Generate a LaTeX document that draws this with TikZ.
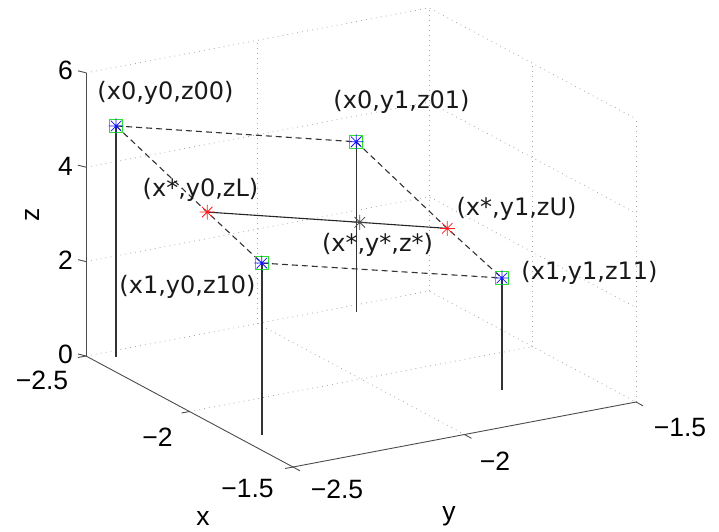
\documentclass[tikz,border=0pt]{standalone}
\usepackage{fontspec}
\newfontfamily\lblfont{DejaVu Sans}
\newfontfamily\tickfont{Liberation Sans}
\definecolor{mgreen}{RGB}{40,225,40}
\definecolor{mblue}{RGB}{20,20,255}
\definecolor{mred}{RGB}{255,30,30}
\begin{document}
\begin{tikzpicture}[x=1pt,y=-1pt,
  gridline/.style={black!35, line width=0.8pt, dash pattern=on 0.8pt off 4.2pt},
  axisline/.style={black!70, line width=0.9pt},
  stem/.style={black!80, line width=1.4pt},
  dashedge/.style={black!80, line width=1.1pt, dash pattern=on 6pt off 4pt},
  midline/.style={black!85, line width=1.1pt},
  sqr/.style={draw=mgreen, line width=0.8pt, minimum size=13pt, inner sep=0pt},
  lbl/.style={font=\lblfont\fontsize{24}{28}\selectfont, text=black!90, inner sep=0pt},
  tick/.style={font=\tickfont\fontsize{26.5}{30}\selectfont, text=black, inner sep=0pt},
  starmark/.pic={\draw[line width=0.75pt] (-7.5pt,0)--(7.5pt,0) (0,-7.5pt)--(0,7.5pt)
     (-5.3pt,-5.3pt)--(5.3pt,5.3pt) (-5.3pt,5.3pt)--(5.3pt,-5.3pt);}
]
\useasboundingbox (0,0) rectangle (719,531);
\begin{scope}[shift={(86,356)}, x={(207pt,-111pt)}, y={(343pt,65pt)}, z={(0pt,47.2pt)}]
  % grid
  \foreach \zz in {0,2,4,6} {\draw[gridline] (0,0,\zz) -- (0,1,\zz) -- (1,1,\zz);}
  \foreach \vv in {0.5,1} {\draw[gridline] (0,\vv,0) -- (0,\vv,6);}
  \foreach \uu in {0.5,1} {\draw[gridline] (\uu,1,0) -- (\uu,1,6);}
  \draw[gridline] (0.5,0,0) -- (0.5,1,0);
  \draw[gridline] (0,0.5,0) -- (1,0.5,0);
  % axes
  \draw[axisline] (0,0,0) -- (0,0,6);
  \draw[axisline] (0,0,0) -- (1,0,0) -- (1,1,0);
  \foreach \zz in {0,2,4,6} {\draw[axisline] (0,0,\zz) -- ++(-8pt,2pt);}
  \foreach \uu in {0,0.5,1} {\draw[axisline] (\uu,0,0) -- ++(-8pt,-1.5pt);}
  \foreach \vv in {0,0.5,1} {\draw[axisline] (1,\vv,0) -- ++(7pt,-3.8pt);}
  % data points
  \coordinate (p00) at (0.046,0.06,4.9);
  \coordinate (p01) at (0.046,0.76,3.6);
  \coordinate (p10) at (0.75,0.06,3.65);
  \coordinate (p11) at (0.75,0.76,2.37);
  \coordinate (pL)  at (0.486,0.06,4.11);
  \coordinate (pU)  at (0.486,0.76,2.80);
  \coordinate (ps)  at (0.486,0.505,3.28);
  \coordinate (b00) at (0.046,0.06,0);
  \coordinate (b01) at (0.046,0.76,0);
  \coordinate (b10) at (0.75,0.06,0);
  \coordinate (b11) at (0.75,0.76,0);
\end{scope}
% stems
\draw[stem] (p00) -- (b00);
\draw[stem] (p01) -- (b01);
\draw[stem] (p10) -- (b10);
\draw[stem] (p11) -- (b11);
% dashed cell edges
\draw[dashedge] (p00) -- (p01);
\draw[dashedge] (p00) -- (pL) -- (p10);
\draw[dashedge] (p10) -- (p11);
\draw[dashedge] (p01) -- (pU) -- (p11);
% interpolation line
\draw[midline] (pL) -- (ps) -- (pU);
% markers
\foreach \p in {p00,p01,p10,p11} {
  \node[sqr] (sq\p) at (\p) {};
  \pic[mblue] at (\p) {starmark};
}
\pic[mred] at (pL) {starmark};
\pic[mred] at (pU) {starmark};
\pic[black!70] at (ps) {starmark};
% data labels
\node[lbl] (l00) at (165.5,93) {(x0,y0,z00)};
\node[lbl] (l01) at (401.5,101.5) {(x0,y1,z01)};
\node[lbl] (lL) at (200.5,190) {(x*,y0,zL)};
\node[lbl] (lU) at (516.5,209) {(x*,y1,zU)};
\node[lbl] (ls) at (377.5,245) {(x*,y*,z*)};
\node[lbl] (l10) at (187.5,287) {(x1,y0,z10)};
\node[lbl] (l11) at (589.5,272.5) {(x1,y1,z11)};
% tick labels
\node[tick, anchor=east] (tz6) at (73,70.5) {6};
\node[tick, anchor=east] (tz4) at (73,166) {4};
\node[tick, anchor=east] (tz2) at (73,260) {2};
\node[tick, anchor=east] (tz0) at (73,354) {0};
\node[tick] (tx1) at (42,380) {−2.5};
\node[tick] (tx2) at (157.5,437) {−2};
\node[tick] (tx3) at (247.5,489) {−1.5};
\node[tick] (ty1) at (337,489) {−2.5};
\node[tick] (ty2) at (495,461) {−2};
\node[tick] (ty3) at (680,428) {−1.5};
% axis labels
\node[tick] (ax) at (203,518) {x};
\node[tick, anchor=base] (ay) at (449,520) {y};
\node[tick, rotate=90] (az) at (32,215) {z};
\end{tikzpicture}
\end{document}
